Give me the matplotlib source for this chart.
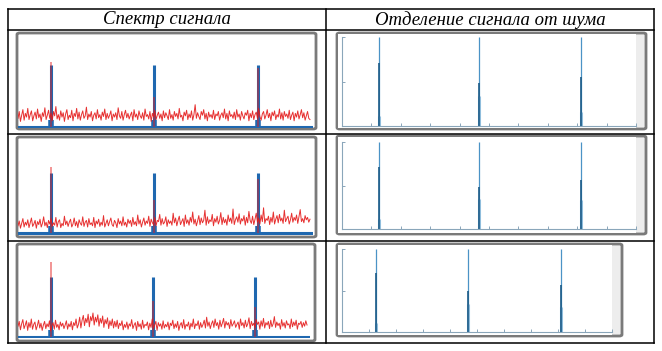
import matplotlib
matplotlib.use("Agg")
import matplotlib.pyplot as plt
import numpy as np
from matplotlib.lines import Line2D
from matplotlib.patches import FancyBboxPatch, Rectangle

W, H = 662, 351

headers = ["Спектр сигнала", "Отделение сигнала от шума"]

# peak positions (x in tick units 0..10)
peak_x = [1.25, 4.67, 8.12]

# left column: blue signal peaks and red noisy spectrum (noise in hundredths)
blue_peak = [1.0, 1.0, 1.0]
red_peak = [[1.05, 0.48, 0.95], [1.1, 0.55, 0.9], [1.25, 0.6, 0.5]]
noise_1 = [14, 25, 9, 19, 28, 11, 22, 16, 30, 12, 20, 26, 10, 18, 24, 13, 29, 15, 21, 9,
           23, 17, 31, 12, 19, 27, 14, 22, 10, 25, 18, 33, 13, 20, 11, 26, 16, 23, 9, 21,
           28, 12, 19, 15, 27, 10, 22, 17, 30, 13, 24, 11, 20, 26, 14, 18, 32, 12, 21, 16,
           25, 10, 19, 23, 13, 28, 15, 20, 11, 24, 17, 29, 12, 22, 14, 19, 26, 10, 21, 16,
           23, 12, 31, 18, 14, 25, 11, 20, 27, 15, 22, 13, 19, 24, 10, 28, 16, 21, 12, 26,
           18, 14, 23, 11, 29, 17, 20, 13, 25, 9, 22, 16, 27, 12, 19, 24, 14, 21, 10, 26,
           15, 23, 18, 12, 28, 14, 20, 11, 25, 17, 22, 13, 30, 16, 19, 10, 24, 18, 27, 12,
           21, 15, 26, 11, 20, 36, 14, 23, 17, 12, 25, 19, 28, 13, 22, 10, 24, 16, 20, 14,
           27, 12, 21, 18, 25, 11, 19, 23, 15, 29, 13, 22, 10, 26, 17, 20, 14, 24, 12, 28,
           16, 21, 11, 25, 18, 13, 23, 19, 27, 10, 22, 15, 26, 12, 20, 24, 14, 30, 17, 11,
           21, 25, 13, 19, 28, 15, 22, 10, 24, 18, 26, 12, 20, 16, 29, 13, 23, 11, 25, 17,
           21, 14, 27, 12, 19, 24, 10, 22, 16, 26, 13, 20, 28, 15, 23, 11, 18, 25, 14, 12]
noise_2 = [12, 20, 8, 16, 24, 10, 18, 13, 22, 9, 17, 25, 11, 15, 21, 8, 19, 14, 23, 10,
           16, 27, 12, 18, 9, 21, 15, 24, 11, 17, 13, 26, 10, 19, 22, 9, 16, 12, 28, 14,
           20, 11, 18, 23, 10, 15, 25, 12, 19, 9, 22, 16, 13, 27, 11, 18, 21, 10, 24, 14,
           17, 12, 26, 9, 20, 15, 23, 11, 18, 13, 29, 10, 16, 22, 12, 19, 25, 14, 11, 21,
           17, 9, 24, 15, 20, 12, 27, 13, 18, 10, 23, 16, 21, 11, 26, 14, 19, 12, 30, 15,
           22, 10, 18, 25, 13, 20, 16, 28, 11, 23, 17, 14, 26, 12, 21, 19, 31, 13, 24, 15,
           18, 27, 11, 22, 16, 20, 13, 33, 17, 25, 12, 21, 28, 14, 19, 24, 11, 30, 16, 22,
           13, 26, 18, 35, 15, 23, 12, 20, 29, 14, 25, 17, 21, 38, 13, 27, 16, 22, 19, 31,
           12, 24, 18, 28, 15, 21, 34, 14, 26, 17, 23, 13, 30, 19, 25, 16, 40, 14, 22, 27,
           18, 32, 15, 24, 20, 29, 13, 26, 17, 36, 21, 16, 28, 14, 23, 33, 18, 25, 15, 30,
           19, 42, 16, 24, 21, 28, 14, 26, 18, 35, 15, 23, 29, 17, 31, 20, 25, 16, 38, 19,
           24, 28, 15, 22, 33, 18, 26, 21, 30, 16, 27, 39, 19, 24, 17, 29, 22, 26, 18, 23]
noise_3 = [18, 26, 12, 22, 29, 14, 20, 27, 11, 24, 16, 30, 13, 21, 25, 12, 19, 28, 15, 23,
           11, 20, 26, 14, 22, 17, 27, 10, 19, 24, 13, 28, 16, 21, 12, 25, 18, 23, 14, 20,
           27, 13, 22, 17, 26, 12, 24, 19, 30, 15, 21, 33, 15, 28, 36, 19, 31, 24, 38, 17,
           34, 27, 40, 20, 33, 25, 37, 18, 31, 23, 35, 16, 29, 22, 32, 14, 27, 19, 30, 15,
           26, 17, 28, 14, 23, 19, 27, 12, 21, 16, 25, 13, 22, 18, 29, 14, 20, 24, 11, 26,
           17, 22, 13, 28, 15, 21, 19, 25, 12, 23, 16, 30, 14, 20, 26, 11, 24, 18, 22, 13,
           27, 15, 21, 17, 25, 12, 23, 19, 28, 14, 22, 16, 26, 11, 20, 24, 15, 29, 13, 21,
           18, 25, 12, 23, 17, 30, 14, 22, 19, 27, 13, 24, 16, 21, 28, 15, 33, 18, 25, 14,
           22, 27, 16, 30, 19, 24, 13, 28, 17, 23, 31, 15, 26, 20, 24, 14, 29, 18, 22, 27,
           16, 21, 25, 13, 30, 19, 24, 15, 28, 17, 22, 32, 14, 26, 19, 23, 16, 29, 21, 25,
           13, 27, 18, 31, 15, 24, 20, 26, 14, 28, 17, 22, 34, 16, 25, 19, 23, 13, 29, 18,
           24, 15, 27, 20, 22, 14, 30, 17, 25, 19, 28, 13, 23, 21, 26, 16, 24, 18, 27, 20]
noises = [noise_1, noise_2, noise_3]

# right column: recovered peaks (full, mid, low heights)
rec_full = [1.0, 1.0, 1.0]
rec_mid = [[0.71, 0.48, 0.55], [0.71, 0.48, 0.56], [0.71, 0.49, 0.57]]
rec_low = [[0.11, 0.34, 0.16], [0.11, 0.34, 0.33], [0.11, 0.34, 0.3]]


def box(x0, y0, x1, y1):
    return [x0 / W, 1 - y1 / H, (x1 - x0) / W, (y1 - y0) / H]


fig = plt.figure(figsize=(W / 100, H / 100), dpi=100)
fig.patch.set_facecolor("white")


# table grid
def hline(y, x0=8, x1=654):
    fig.add_artist(Line2D([x0 / W, x1 / W], [1 - y / H, 1 - y / H], color="black", lw=1.1))


def vline(x, y0=9, y1=343):
    fig.add_artist(Line2D([x / W, x / W], [1 - y0 / H, 1 - y1 / H], color="black", lw=1.1))


for y in [9, 30, 134, 241, 343]:
    hline(y)
for x in [8, 326, 654]:
    vline(x)

fig.text(167 / W, 1 - 20 / H, headers[0], ha="center", va="center",
         family="Liberation Serif", style="italic", fontsize=13.5)
fig.text(490 / W, 1 - 20 / H, headers[1], ha="center", va="center",
         family="Liberation Serif", style="italic", fontsize=13.5)


def frame(x0, y0, x1, y1, face="white"):
    fig.add_artist(FancyBboxPatch((x0 / W, 1 - y1 / H), (x1 - x0) / W, (y1 - y0) / H,
                                  boxstyle="round,pad=0,rounding_size=0.004",
                                  transform=fig.transFigure, facecolor=face,
                                  edgecolor="#7a7a7a", lw=2.0, zorder=-2))


blue = "#1f68b0"
red = "#e41a1a"

# left panels: (frame box, axes box, baseline px, peak-top px)
left_rows = [((17, 33, 316, 129), (18, 35, 313, 128), 127, 65),
             ((17, 137, 316, 237), (18, 139, 313, 235), 233, 173),
             ((17, 244, 315, 341), (18, 246, 310, 338), 337, 277)]

for i, (fb, ab, base, top) in enumerate(left_rows):
    frame(*fb)
    ax = fig.add_axes(box(*ab))
    ax.set_facecolor("none")
    scale = base - top
    ax.set_ylim(-(ab[3] - base) / scale, (base - ab[1]) / scale)
    ax.set_xlim(0.15, 9.95)
    n = np.array(noises[i]) / 100.0
    xs = np.linspace(0.15, 9.85, len(n))
    ax.axhline(0, color=blue, lw=2.2, zorder=1)
    ax.vlines(peak_x, 0, blue_peak, color=blue, lw=2.2, zorder=2)
    ax.vlines(peak_x, 0, 0.12, color=blue, lw=4, zorder=2)
    ax.plot(xs, n, color=red, lw=0.7, alpha=0.9, zorder=3)
    ax.vlines(peak_x, 0, red_peak[i], color=red, lw=1.2, alpha=0.55, zorder=4)
    ax.axis("off")

# right panels: (frame box, white area box, axes box)
right_rows = [((337, 33, 646, 129), (338, 34, 636, 128), (342, 37, 636, 126)),
              ((337, 136, 646, 234), (338, 137, 636, 233), (342, 142, 636, 229)),
              ((337, 244, 622, 336), (338, 245, 612, 335), (342, 249, 612, 332))]

axis_col = "#8aa6ba"
for i, (fb, wb, ab) in enumerate(right_rows):
    frame(*fb, face="#ededed")
    fig.add_artist(Rectangle((wb[0] / W, 1 - wb[3] / H), (wb[2] - wb[0]) / W,
                             (wb[3] - wb[1]) / H, transform=fig.transFigure,
                             facecolor="white", edgecolor="none", zorder=-1))
    ax = fig.add_axes(box(*ab))
    ax.set_facecolor("none")
    ax.set_xlim(0, 10)
    ax.set_ylim(0, 1.0)
    ax.vlines(peak_x, 0, rec_full, color="#4b93c6", lw=0.9)
    ax.vlines(peak_x, 0, rec_low[i], color="#8fbddc", lw=2.2)
    ax.vlines(peak_x, 0, rec_mid[i], color="#1d5c88", lw=1.2)
    for s in ["top", "right"]:
        ax.spines[s].set_visible(False)
    for s in ["left", "bottom"]:
        ax.spines[s].set_color(axis_col)
        ax.spines[s].set_linewidth(0.8)
    ax.set_xticks(np.arange(0, 11))
    ax.set_yticks([0, 0.5, 1.0])
    ax.tick_params(direction="in", length=2.5, width=0.7, color=axis_col,
                   labelbottom=False, labelleft=False)

fig.savefig("out.png", dpi=100)
